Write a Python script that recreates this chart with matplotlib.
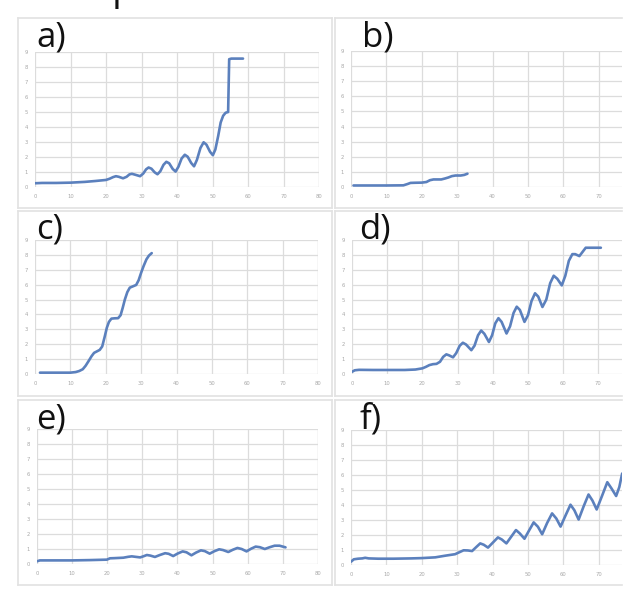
import matplotlib
matplotlib.use("Agg")
import matplotlib.pyplot as plt
from matplotlib.patches import Rectangle
from matplotlib.lines import Line2D

W, H = 639, 599

# ---------------- data ----------------
panel_labels = ["a)", "b)", "c)", "d)", "e)", "f)"]

a_x = [0, 2, 6, 10, 14, 17, 20, 21, 22, 22.8, 23.6, 24.8, 25.8, 26.6, 27.3, 28.2, 29.6, 30.5, 31.3, 32.0,
       32.8, 33.7, 34.5, 35.3, 36.2, 37.0, 37.8, 38.8, 39.6, 40.4, 41.3, 42.2, 43.0, 44.0, 44.8, 45.6,
       46.6, 47.5, 48.3, 49.3, 50.1, 50.8, 51.6, 52.3, 53.0, 53.7, 54.4, 54.7, 55.3, 58.6]
a_y = [0.25, 0.27, 0.27, 0.29, 0.34, 0.40, 0.47, 0.55, 0.66, 0.72, 0.68, 0.58, 0.68, 0.84, 0.88, 0.82, 0.72,
       0.90, 1.18, 1.30, 1.22, 0.98, 0.85, 1.05, 1.48, 1.68, 1.58, 1.20, 1.03, 1.35, 1.90, 2.15, 2.02, 1.60,
       1.38, 1.80, 2.60, 2.98, 2.82, 2.35, 2.12, 2.50, 3.40, 4.30, 4.75, 4.95, 5.00, 8.52, 8.56, 8.56]

b_x = [0.7, 5, 10, 14.8, 16, 16.8, 18, 20, 21.3, 22.3, 23.3, 25.5, 26.5, 27.5, 28.5, 29.5, 31, 32, 32.9]
b_y = [0.10, 0.10, 0.10, 0.11, 0.20, 0.27, 0.28, 0.29, 0.33, 0.45, 0.50, 0.50, 0.56, 0.63, 0.72, 0.76,
       0.76, 0.80, 0.88]

c_x = [1.4, 5, 10, 11.5, 12.5, 13.5, 14.3, 15.1, 16, 16.7, 17.5, 18.3, 19, 19.7, 20.3, 20.9, 21.6, 22.5,
       23.5, 24.2, 24.8, 25.4, 26.1, 26.8, 27.6, 28.6, 29.3, 30.0, 30.7, 31.5, 32.2, 33]
c_y = [0.09, 0.09, 0.09, 0.13, 0.20, 0.32, 0.55, 0.85, 1.20, 1.42, 1.52, 1.62, 1.85, 2.50, 3.10, 3.50, 3.72,
       3.74, 3.75, 3.95, 4.45, 5.00, 5.50, 5.80, 5.88, 5.98, 6.30, 6.80, 7.25, 7.70, 7.95, 8.12]

d_x = [0, 0.8, 2, 6, 10, 15, 18, 20, 21, 22, 23, 24, 25, 25.9, 26.8, 27.6, 28.7, 29.6, 30.6, 31.5, 32.4,
       33.9, 34.8, 35.8, 36.7, 37.6, 38.9, 39.8, 40.7, 41.6, 42.5, 43.9, 44.9, 45.9, 46.8, 47.7, 49.0,
       50.0, 51.0, 52.0, 52.9, 54.1, 55.2, 56.3, 57.3, 58.3, 59.6, 60.6, 61.6, 62.6, 63.4, 64.6, 65.5,
       66.4, 70.7]
d_y = [0.15, 0.25, 0.28, 0.27, 0.27, 0.27, 0.30, 0.38, 0.48, 0.60, 0.66, 0.68, 0.82, 1.15, 1.32, 1.25,
       1.12, 1.40, 1.90, 2.10, 1.98, 1.60, 1.90, 2.60, 2.92, 2.70, 2.15, 2.60, 3.40, 3.75, 3.50, 2.72,
       3.20, 4.10, 4.52, 4.30, 3.50, 3.95, 4.90, 5.42, 5.20, 4.50, 5.00, 6.10, 6.60, 6.40, 5.95, 6.60,
       7.60, 8.05, 8.05, 7.92, 8.20, 8.48, 8.48]

e_x = [0, 0.8, 5, 10, 15, 19.9, 20.8, 22, 24.6, 26, 27, 28, 29.4, 30.4, 31.3, 32.3, 33.6, 35, 36.5, 37.5,
       38.8, 40.1, 41.5, 42.6, 44.0, 45.3, 46.7, 47.8, 49.2, 50.5, 51.9, 53, 54.5, 55.8, 57.1, 58.3,
       59.7, 61, 62.3, 63.5, 64.9, 66.3, 67.7, 69.1, 70.8]
e_y = [0.18, 0.24, 0.24, 0.24, 0.26, 0.29, 0.38, 0.39, 0.42, 0.48, 0.51, 0.48, 0.44, 0.52, 0.60, 0.56,
       0.47, 0.60, 0.72, 0.68, 0.53, 0.70, 0.84, 0.78, 0.58, 0.76, 0.91, 0.86, 0.69, 0.85, 0.98, 0.93,
       0.80, 0.95, 1.07, 1.00, 0.84, 1.02, 1.16, 1.12, 1.00, 1.12, 1.22, 1.22, 1.11]

f_x = [0, 0.8, 2, 3.2, 4, 5, 7.7, 12, 17, 20, 23.8, 26.6, 29.4, 30.6, 31.8, 33, 34.2, 35.4, 36.5, 37.5,
       38.7, 40.1, 41.5, 42.6, 43.9, 45.3, 46.6, 47.7, 49.0, 50.3, 51.6, 52.8, 54.0, 55.4, 56.8, 58.0,
       59.2, 60.6, 62.0, 63.1, 64.3, 65.7, 67.1, 68.2, 69.4, 70.9, 72.4, 73.6, 74.9, 75.8, 76.6]
f_y = [0.22, 0.38, 0.42, 0.44, 0.48, 0.44, 0.42, 0.42, 0.44, 0.46, 0.51, 0.62, 0.72, 0.85, 0.98, 0.97,
       0.93, 1.20, 1.44, 1.35, 1.16, 1.50, 1.84, 1.70, 1.44, 1.90, 2.33, 2.10, 1.75, 2.30, 2.84, 2.55,
       2.05, 2.80, 3.44, 3.10, 2.56, 3.30, 4.02, 3.65, 3.03, 3.90, 4.70, 4.30, 3.70, 4.60, 5.52, 5.10,
       4.60, 5.20, 6.10]

series = [(a_x, a_y), (b_x, b_y), (c_x, c_y), (d_x, d_y), (e_x, e_y), (f_x, f_y)]

x_ticks_left = [0, 10, 20, 30, 40, 50, 60, 70, 80]
x_ticks_right = [0, 10, 20, 30, 40, 50, 60, 70]
y_ticks = [0, 1, 2, 3, 4, 5, 6, 7, 8, 9]

# ---------------- layout (pixels) ----------------
plots = [
    dict(x0=35, px10=35.5, top=52, bot=187, right=319),
    dict(x0=351, px10=35.4, top=51, bot=187, right=622),
    dict(x0=35, px10=35.4, top=240, bot=374, right=318),
    dict(x0=352, px10=35.2, top=240, bot=374, right=622),
    dict(x0=37, px10=35.1, top=429, bot=564, right=318),
    dict(x0=351, px10=35.4, top=430, bot=565, right=622),
]
frames = [
    (18, 18, 332, 208, True), (335, 18, 622, 208, False),
    (18, 211, 332, 396, True), (335, 211, 622, 396, False),
    (18, 400, 332, 585, True), (335, 400, 622, 585, False),
]
label_pos = [(36, 46), (362, 46), (36, 238), (359, 238), (36, 428), (360, 428)]

fig = plt.figure(figsize=(W / 100, H / 100), dpi=100)
fig.patch.set_facecolor("white")

def fx(px):
    return px / W

def fy(py):
    return 1 - py / H

edge = "#e2e2e2"
for (l, t, r, b, closed) in frames:
    fig.add_artist(Rectangle((fx(l), fy(b)), fx(r - l), (b - t) / H, transform=fig.transFigure,
                             facecolor="white", edgecolor="none", zorder=-5))
    pts = [((l, b), (l, t)), ((l, t), (r, t)), ((l, b), (r, b))]
    if closed:
        pts.append(((r, t), (r, b)))
    for (p1, p2) in pts:
        fig.add_artist(Line2D([fx(p1[0]), fx(p2[0])], [fy(p1[1]), fy(p2[1])], transform=fig.transFigure,
                              color=edge, lw=1.2, zorder=-4))

line_color = "#5b80bd"
grid_color = "#dcdcdc"

for i, (p, (xs, ys)) in enumerate(zip(plots, series)):
    xmax = (p["right"] - p["x0"]) / p["px10"] * 10
    ax = fig.add_axes([fx(p["x0"]), fy(p["bot"]), fx(p["right"] - p["x0"]), (p["bot"] - p["top"]) / H])
    ax.set_xlim(0, xmax)
    ax.set_ylim(0, 9)
    ax.patch.set_alpha(0)
    for s in ax.spines.values():
        s.set_visible(False)
    xt = x_ticks_left if i % 2 == 0 else x_ticks_right
    ax.set_xticks(xt)
    ax.set_yticks(y_ticks)
    ax.set_xticklabels([str(v) for v in xt])
    ax.set_yticklabels([str(v) for v in y_ticks])
    ax.tick_params(length=0, labelsize=3.8, labelcolor="#a8a8a8", pad=5)
    for v in y_ticks:
        ax.axhline(v, color=grid_color, lw=0.9, zorder=1)
    for v in xt:
        ax.axvline(v, color=grid_color, lw=0.9, zorder=1)
    if i % 2 == 0:
        ax.axvline(80, color=grid_color, lw=0.9, zorder=1)
    ax.plot(xs, ys, color=line_color, lw=1.9, solid_joinstyle="round", solid_capstyle="round", zorder=3)

for (lab, (px, py)) in zip(panel_labels, label_pos):
    fig.text(fx(px), fy(py), lab, fontsize=25, family="Open Sans", color="#111111",
             ha="left", va="baseline")

# cut-off title fragment at the very top (only its descender is visible in the source)
fig.text(fx(112), fy(0), "p", fontsize=28, family="Open Sans", color="#111111", ha="left", va="baseline")

fig.savefig("out.png", dpi=100, facecolor="white")
